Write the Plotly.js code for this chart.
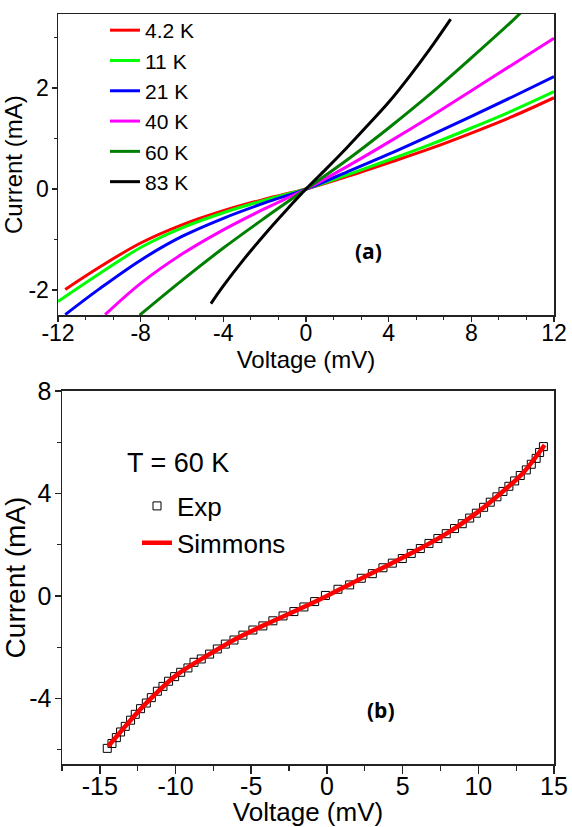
<!DOCTYPE html>
<html><head><meta charset="utf-8">
<script src="https://cdn.plot.ly/plotly-3.0.1.min.js"></script>
<style>html,body{margin:0;padding:0;background:#fff}</style>
</head><body><div id="chart" style="width:572px;height:827px"></div>
<script>
// ---------- Panel (a): I-V curves at several temperatures ----------
const names_a = ['4.2 K', '11 K', '21 K', '40 K', '60 K', '83 K'];
const colors_a = ['#FF0000', '#00FF00', '#0000FF', '#FF00FF', '#007F00', '#000000'];

const v_4K = [-11.65, -10, -8, -6, -4, -2, 0, 2, 4, 6, 8, 10, 12];
const i_4K = [-1.99, -1.55, -1.07, -0.71, -0.43, -0.20, 0, 0.25, 0.52, 0.80, 1.11, 1.44, 1.81];

const v_11K = [-12.0, -10, -8, -6, -4, -2, 0, 2, 4, 6, 8, 10, 12];
const i_11K = [-2.23, -1.68, -1.16, -0.77, -0.47, -0.22, 0, 0.28, 0.575, 0.88, 1.21, 1.555, 1.93];

const v_21K = [-11.65, -10, -8, -6, -4, -2, 0, 2, 4, 6, 8, 10, 12];
const i_21K = [-2.49, -1.98, -1.41, -0.94, -0.58, -0.275, 0, 0.34, 0.69, 1.06, 1.44, 1.83, 2.23];

const v_40K = [-9.72, -8, -6, -4, -2, 0, 2, 4, 6, 8, 10, 12];
const i_40K = [-2.49, -1.87, -1.29, -0.81, -0.39, 0, 0.45, 0.93, 1.43, 1.95, 2.47, 2.99];

const v_60K = [-8.05, -6, -4, -2, 0, 2, 4, 6, 8, 10, 10.45];
const i_60K = [-2.50, -1.81, -1.17, -0.575, 0, 0.58, 1.21, 1.88, 2.60, 3.34, 3.52];

const v_83K = [-4.6, -4, -3, -2, -1, 0, 1, 2, 3, 4, 5, 6, 7.0];
const i_83K = [-2.27, -1.92, -1.39, -0.90, -0.44, 0, 0.41, 0.83, 1.27, 1.72, 2.23, 2.78, 3.37];

const vs_a = [v_4K, v_11K, v_21K, v_40K, v_60K, v_83K];
const is_a = [i_4K, i_11K, i_21K, i_40K, i_60K, i_83K];

const xtick_a = [-12, -8, -4, 0, 4, 8, 12];
const xtext_a = ['-12', '-8', '-4', '0', '4', '8', '12'];
const ytick_a = [-2, 0, 2];
const ytext_a = ['-2', '0', '2'];

// ---------- Panel (b): T = 60 K, experiment vs Simmons fit ----------
const exp_v = [-14.51, -14.20, -13.91, -13.63, -13.32, -12.97, -12.66, -12.31, -11.93, -11.60,
  -11.20, -10.83, -10.46, -10.06, -9.66, -9.18, -8.78, -8.30, -7.75, -7.24,
  -6.71, -6.14, -5.55, -4.89, -4.23, -3.57, -2.90, -2.18, -1.52, -0.81,
  -0.10, 0.73, 1.50, 2.27, 3.00, 3.70, 4.32, 4.98, 5.57, 6.17,
  6.74, 7.33, 7.88, 8.43, 8.94, 9.43, 9.87, 10.35, 10.79, 11.23,
  11.63, 12.02, 12.40, 12.77, 13.17, 13.50, 13.82, 14.05, 14.30];
const exp_i = [-5.95, -5.76, -5.53, -5.31, -5.09, -4.85, -4.62, -4.40, -4.18, -3.97,
  -3.72, -3.53, -3.33, -3.15, -2.98, -2.81, -2.59, -2.46, -2.27, -2.07,
  -1.88, -1.72, -1.53, -1.33, -1.17, -0.97, -0.78, -0.61, -0.43, -0.22,
  0.02, 0.26, 0.43, 0.69, 0.87, 1.10, 1.28, 1.46, 1.66, 1.85,
  2.05, 2.24, 2.43, 2.63, 2.82, 3.04, 3.23, 3.46, 3.66, 3.87,
  4.08, 4.28, 4.49, 4.70, 4.92, 5.14, 5.37, 5.60, 5.83];

const fit_v = [-14.45, -13, -12, -10, -8, -6, -4, -2, 0, 2, 4, 6, 8, 10, 12, 13, 14.38];
const fit_i = [-5.87, -4.87, -4.22, -3.12, -2.36, -1.67, -1.10, -0.56, 0, 0.60, 1.19, 1.80, 2.47, 3.29, 4.27, 4.83, 5.89];

const xtick_b = [-15, -10, -5, 0, 5, 10, 15];
const xtext_b = ['-15', '-10', '-5', '0', '5', '10', '15'];
const ytick_b = [-4, 0, 4, 8];
const ytext_b = ['-4', '0', '4', '8'];

// ---------- layout helpers ----------
const FONT = 'Liberation Sans, Arial, Helvetica, sans-serif';
const W = 572, H = 827;
const M = {l: 58, r: 18, t: 10, b: 63};
const PW = W - M.l - M.r, PH = H - M.t - M.b;
const px2x = px => (px - M.l) / PW;
const py2y = py => (H - M.b - py) / PH;

const traces = [];
for (let k = 0; k < names_a.length; k++) {
  traces.push({
    type: 'scatter', mode: 'lines', name: names_a[k],
    x: vs_a[k], y: is_a[k], xaxis: 'x', yaxis: 'y',
    line: {color: colors_a[k], width: 3, shape: 'spline', smoothing: 1},
    legend: 'legend'
  });
}
traces.push({
  type: 'scatter', mode: 'markers', name: 'Exp',
  x: exp_v, y: exp_i, xaxis: 'x2', yaxis: 'y2',
  marker: {symbol: 'square-open', size: 8, color: '#000', line: {width: 1, color: '#000'}},
  legend: 'legend2'
});
traces.push({
  type: 'scatter', mode: 'lines', name: 'Simmons',
  x: fit_v, y: fit_i, xaxis: 'x2', yaxis: 'y2',
  line: {color: '#FF0000', width: 4.5, shape: 'spline'},
  legend: 'legend2'
});

const axBase = {
  showline: true, linecolor: '#222', linewidth: 1.5, mirror: true,
  ticks: 'outside', tickcolor: '#222', tickwidth: 1.5,
  showgrid: false, zeroline: false, tickmode: 'array'
};

const layout = {
  width: W, height: H, margin: M,
  paper_bgcolor: '#fff', plot_bgcolor: '#fff',
  font: {family: FONT, color: '#000'},
  showlegend: true,
  xaxis: Object.assign({}, axBase, {
    domain: [0, 1], anchor: 'y', range: [-12, 12],
    tickvals: xtick_a, ticktext: xtext_a, ticklen: 5, ticklabelstandoff: -8,
    minor: {tickmode: 'linear', dtick: 4 / 3, tick0: 0, ticks: 'outside', ticklen: 3, tickcolor: '#222', tickwidth: 1.2},
    tickfont: {size: 23, family: FONT},
    title: {text: 'Voltage (mV)', font: {size: 24, family: FONT}, standoff: 0}
  }),
  yaxis: Object.assign({}, axBase, {
    domain: [py2y(313), 1], anchor: 'x', range: [-2.505, 3.47],
    tickvals: ytick_a, ticktext: ytext_a, ticklen: 5, ticklabelstandoff: -2,
    minor: {tickmode: 'linear', dtick: 1, tick0: 0, ticks: 'outside', ticklen: 3, tickcolor: '#222', tickwidth: 1.2},
    tickfont: {size: 23, family: FONT},
    title: {text: 'Current (mA)', font: {size: 24, family: FONT}, standoff: 0}
  }),
  xaxis2: Object.assign({}, axBase, {
    domain: [px2x(62), 1], anchor: 'y2', range: [-17.5, 15],
    tickvals: xtick_b, ticktext: xtext_b, ticklen: 8, ticklabelstandoff: -9,
    minor: {tickmode: 'linear', dtick: 2.5, tick0: 0, ticks: 'outside', ticklen: 5, tickcolor: '#222', tickwidth: 1.2},
    tickfont: {size: 25, family: FONT},
    title: {text: 'Voltage (mV)', font: {size: 26, family: FONT}, standoff: 4}
  }),
  yaxis2: Object.assign({}, axBase, {
    domain: [0, py2y(389)], anchor: 'x2', range: [-6.56, 8],
    tickvals: ytick_b, ticktext: ytext_b, ticklen: 6, ticklabelstandoff: -2,
    minor: {tickmode: 'linear', dtick: 2, tick0: 0, ticks: 'outside', ticklen: 4, tickcolor: '#222', tickwidth: 1.2},
    tickfont: {size: 25, family: FONT},
    title: {text: 'Current (mA)', font: {size: 28, family: FONT}, standoff: 0}
  }),
  legend: {
    x: px2x(105), y: py2y(6), xanchor: 'left', yanchor: 'top',
    bgcolor: 'rgba(0,0,0,0)', borderwidth: 0,
    font: {size: 21, family: FONT, color: '#000'}
  },
  legend2: {
    x: px2x(137), y: py2y(481), xanchor: 'left', yanchor: 'top',
    bgcolor: 'rgba(0,0,0,0)', borderwidth: 0,
    font: {size: 26, family: FONT, color: '#000'}
  },
  annotations: [
    {text: '<b>(a)</b>', x: 3.0, y: -1.22, xref: 'x', yref: 'y', showarrow: false,
     font: {size: 21, family: 'Open Sans, sans-serif', color: '#000'}},
    {text: '<b>(b)</b>', x: 3.6, y: -4.45, xref: 'x2', yref: 'y2', showarrow: false,
     font: {size: 21, family: 'Open Sans, sans-serif', color: '#000'}},
    {text: 'T = 60 K', x: -13.35, y: 5.17, xref: 'x2', yref: 'y2', showarrow: false,
     xanchor: 'left', font: {size: 27, family: FONT, color: '#000'}}
  ]
};

Plotly.newPlot('chart', traces, layout, {staticPlot: true, displayModeBar: false});
</script></body></html>
